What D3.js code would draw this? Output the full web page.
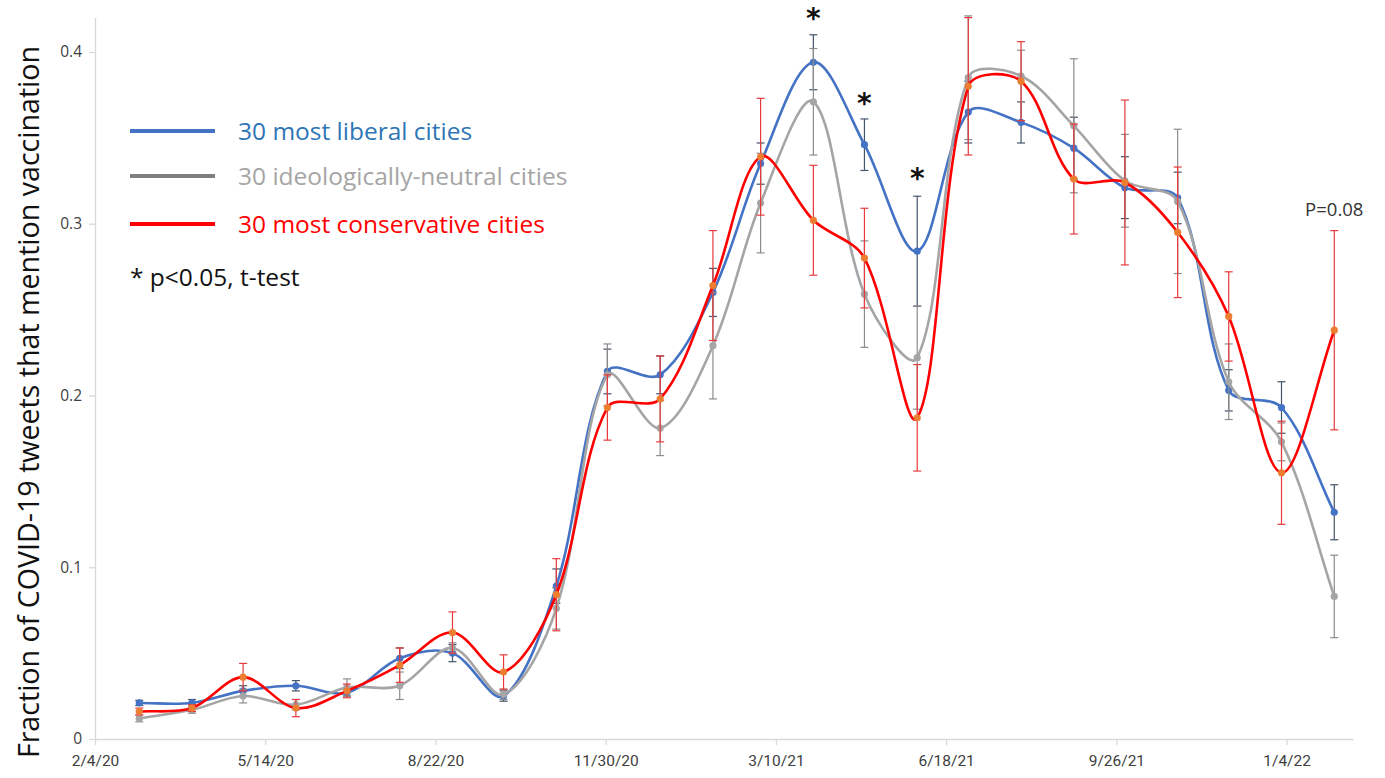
<!DOCTYPE html>
<html>
<head>
<meta charset="utf-8">
<script src="https://cdn.jsdelivr.net/npm/d3@7"></script>
<style>
  html, body { margin: 0; padding: 0; background: #fff; }
  svg { display: block; }
</style>
</head>
<body>
<svg id="chart" width="1385" height="778"></svg>
<script>
// Monthly observation dates
const months = [
  "2020-03-01","2020-04-01","2020-05-01","2020-06-01","2020-07-01","2020-08-01",
  "2020-09-01","2020-10-01","2020-11-01","2020-12-01","2021-01-01","2021-02-01",
  "2021-03-01","2021-04-01","2021-05-01","2021-06-01","2021-07-01","2021-08-01",
  "2021-09-01","2021-10-01","2021-11-01","2021-12-01","2022-01-01","2022-02-01"
];

// Fraction of COVID-19 tweets mentioning vaccination, and error half-widths
const liberal = [0.021,0.021,0.028,0.031,0.027,0.047,0.050,0.025,0.089,0.214,0.212,0.260,
                 0.335,0.394,0.346,0.284,0.365,0.359,0.344,0.321,0.315,0.203,0.193,0.132];
const liberalErr = [0.0015,0.002,0.003,0.003,0.002,0.006,0.005,0.003,0.010,0.013,0.011,0.014,
                    0.012,0.016,0.015,0.032,0.018,0.012,0.018,0.018,0.015,0.012,0.015,0.016];

const neutral = [0.012,0.017,0.025,0.020,0.030,0.031,0.053,0.026,0.076,0.212,0.181,0.229,
                 0.312,0.371,0.259,0.222,0.385,0.386,0.357,0.325,0.313,0.208,0.173,0.083];
const neutralErr = [0.002,0.002,0.004,0.003,0.005,0.008,0.003,0.003,0.012,0.018,0.016,0.031,
                    0.029,0.031,0.031,0.030,0.036,0.015,0.039,0.027,0.042,0.022,0.011,0.024];

const conservative = [0.016,0.018,0.036,0.018,0.028,0.043,0.062,0.039,0.084,0.193,0.198,0.264,
                      0.339,0.302,0.280,0.187,0.380,0.383,0.326,0.324,0.295,0.246,0.155,0.238];
const conservativeErr = [0.002,0.002,0.008,0.005,0.004,0.010,0.012,0.010,0.021,0.019,0.025,0.032,
                         0.034,0.032,0.029,0.031,0.040,0.023,0.032,0.048,0.038,0.026,0.030,0.058];

// Axis ticks
const xTickDates = ["2020-02-04","2020-05-14","2020-08-22","2020-11-30","2021-03-10","2021-06-18","2021-09-26","2022-01-04"];
const xTickLabels = ["2/4/20","5/14/20","8/22/20","11/30/20","3/10/21","6/18/21","9/26/21","1/4/22"];
const yTicks = [0, 0.1, 0.2, 0.3, 0.4];
const yTickLabels = ["0","0.1","0.2","0.3","0.4"];

// Months with a significant liberal/conservative difference, and the top of the liberal error bar there
const sigMonths = ["2021-04-01","2021-05-01","2021-06-01"];
const sigAbove = [0.409, 0.360, 0.316];
const pNote = {month: "2022-02-01", value: 0.296, text: "P=0.08"};

const legendLabels = ["30 most liberal cities","30 ideologically-neutral cities","30 most conservative cities"];
const noteText = "* p<0.05, t-test";
const yTitle = "Fraction of COVID-19 tweets that mention vaccination";

const parse = d3.utcParse("%Y-%m-%d");
const svg = d3.select("#chart");

const x = d3.scaleUtc()
  .domain([parse("2020-02-04"), parse("2022-02-12")])
  .range([95, 1353]);
const y = d3.scaleLinear().domain([0, 0.42]).range([739, 17.6]);

const axisColor = "#d9d9d9";

// Y axis
const yAxis = svg.append("g").attr("transform", `translate(${x.range()[0]},0)`)
  .call(d3.axisLeft(y).tickValues(yTicks).tickFormat((d, i) => yTickLabels[i]).tickSize(6).tickSizeOuter(0));
yAxis.select(".domain").attr("stroke", axisColor).attr("stroke-width", 1.3);
yAxis.selectAll(".tick line").attr("stroke", axisColor).attr("stroke-width", 1.3);
yAxis.selectAll(".tick text").attr("fill", "#404040")
  .attr("font-family", "'Open Sans', sans-serif").attr("font-size", 15.5).attr("x", -13);

// X axis
const xAxis = svg.append("g").attr("transform", `translate(0,${y(0)})`)
  .call(d3.axisBottom(x).tickValues(xTickDates.map(parse)).tickFormat((d, i) => xTickLabels[i]).tickSize(6).tickSizeOuter(0));
xAxis.select(".domain").attr("stroke", axisColor).attr("stroke-width", 1.3);
xAxis.selectAll(".tick line").attr("stroke", axisColor).attr("stroke-width", 1.3);
xAxis.selectAll(".tick text").attr("fill", "#404040")
  .attr("font-family", "'Liberation Sans Narrow', 'Roboto', sans-serif").attr("font-size", 15.5).attr("dy", "1.15em");

// Y axis title
svg.append("text")
  .attr("transform", `translate(39,${402}) rotate(-90)`)
  .attr("text-anchor", "middle")
  .attr("font-family", "'Open Sans', sans-serif")
  .attr("font-size", 28.6)
  .attr("fill", "#111")
  .text(yTitle);

const series = [
  {values: liberal, err: liberalErr, line: "#4472c4", marker: "#4472c4", bar: "#44546a"},
  {values: neutral, err: neutralErr, line: "#a5a5a5", marker: "#a5a5a5", bar: "#8c8c8c"},
  {values: conservative, err: conservativeErr, line: "#ff0000", marker: "#ed7d31", bar: "#e8393b"}
];

// Smoothed line: cubic Bezier segments whose tangent arms are weighted by
// the screen length of the neighbouring segments (spreadsheet-style smoothing).
function smoothPath(pts) {
  const p = d3.path();
  const n = pts.length;
  const dist = (a, b) => Math.hypot(b[0] - a[0], b[1] - a[1]);
  p.moveTo(pts[0][0], pts[0][1]);
  for (let i = 0; i < n - 1; i++) {
    const p0 = pts[Math.max(i - 1, 0)], p1 = pts[i], p2 = pts[i + 1], p3 = pts[Math.min(i + 2, n - 1)];
    const d01 = dist(p0, p1), d12 = dist(p1, p2), d23 = dist(p2, p3);
    const f1 = d12 / (3 * (d01 + d12));
    const f2 = d12 / (3 * (d12 + d23));
    const c1 = [p1[0] + (p2[0] - p0[0]) * f1, p1[1] + (p2[1] - p0[1]) * f1];
    const c2 = [p2[0] - (p3[0] - p1[0]) * f2, p2[1] - (p3[1] - p1[1]) * f2];
    p.bezierCurveTo(c1[0], c1[1], c2[0], c2[1], p2[0], p2[1]);
  }
  return p.toString();
}

const capHalf = 4;
series.forEach(s => {
  const g = svg.append("g");
  // error bars
  const eb = g.append("g").attr("stroke", s.bar).attr("stroke-width", 1.2).attr("fill", "none");
  s.values.forEach((v, i) => {
    const cx = x(parse(months[i]));
    const top = y(v + s.err[i]), bot = y(v - s.err[i]);
    eb.append("line").attr("x1", cx).attr("x2", cx).attr("y1", top).attr("y2", bot);
    eb.append("line").attr("x1", cx - capHalf).attr("x2", cx + capHalf).attr("y1", top).attr("y2", top);
    eb.append("line").attr("x1", cx - capHalf).attr("x2", cx + capHalf).attr("y1", bot).attr("y2", bot);
  });
  // smoothed line
  const pts = s.values.map((v, i) => [x(parse(months[i])), y(v)]);
  g.append("path")
    .attr("d", smoothPath(pts))
    .attr("fill", "none")
    .attr("stroke", s.line)
    .attr("stroke-width", 2.6)
    .attr("stroke-linejoin", "round");
  // markers
  g.selectAll("circle").data(s.values).join("circle")
    .attr("cx", (d, i) => x(parse(months[i])))
    .attr("cy", d => y(d))
    .attr("r", 3.6)
    .attr("fill", s.marker);
});

// Significance asterisks
sigMonths.forEach((m, i) => {
  svg.append("text")
    .attr("x", x(parse(m)))
    .attr("y", y(sigAbove[i]) - 8)
    .attr("text-anchor", "middle")
    .attr("font-family", "'DejaVu Sans', sans-serif")
    .attr("font-weight", "bold")
    .attr("font-size", 28)
    .attr("fill", "#111")
    .text("*");
});

svg.append("text")
  .attr("x", x(parse(pNote.month)))
  .attr("y", y(pNote.value) - 15)
  .attr("text-anchor", "middle")
  .attr("font-family", "'Open Sans', sans-serif")
  .attr("font-size", 18.5)
  .attr("fill", "#333")
  .text(pNote.text);

// Legend
const legendRows = [131, 176, 224];
const legendTextColors = ["#2e75b6", "#a5a5a5", "#ff0000"];
const legendLineColors = ["#4472c4", "#7f7f7f", "#ff0000"];
legendLabels.forEach((lab, i) => {
  svg.append("line")
    .attr("x1", 130).attr("x2", 215)
    .attr("y1", legendRows[i]).attr("y2", legendRows[i])
    .attr("stroke", legendLineColors[i]).attr("stroke-width", 4);
  svg.append("text")
    .attr("x", 238).attr("y", legendRows[i])
    .attr("dy", "0.35em")
    .attr("font-family", "'Open Sans', sans-serif")
    .attr("font-size", 24.5)
    .attr("fill", legendTextColors[i])
    .text(lab);
});
svg.append("text")
  .attr("x", 130).attr("y", 277)
  .attr("dy", "0.35em")
  .attr("font-family", "'Open Sans', sans-serif")
  .attr("font-size", 24.5)
  .attr("fill", "#111")
  .text(noteText);
</script>
</body>
</html>
